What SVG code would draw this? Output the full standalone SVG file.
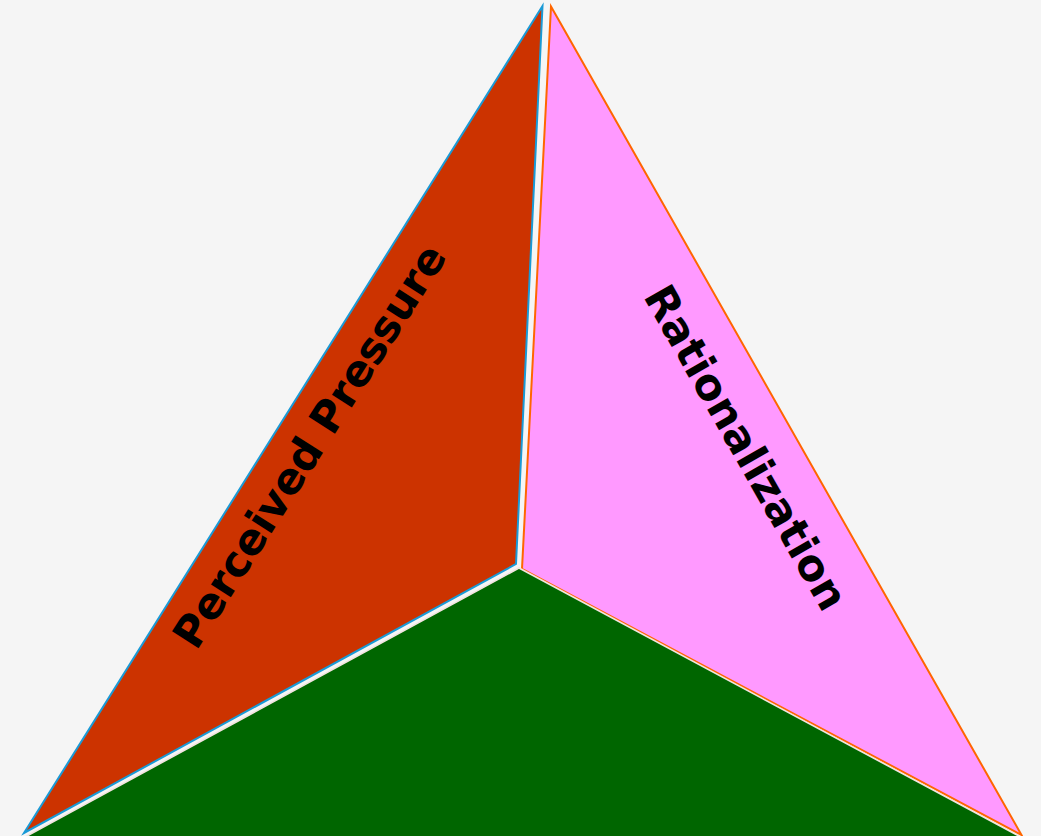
<svg xmlns="http://www.w3.org/2000/svg" width="1041" height="836" viewBox="0 0 1041 836">
<style>
.lbl{font-family:"DejaVu Sans",sans-serif;font-weight:bold;font-size:43px;fill:#000;text-anchor:middle}
</style>
<rect width="1041" height="836" fill="#f5f5f5"/>
<g id="pressure">
<polygon points="542.5,6 516,564 24,833" fill="#cc3300" stroke="#1a9ad6" stroke-width="2" stroke-linejoin="miter"/>
<text class="lbl" transform="translate(322,454) rotate(-57.5)">Perceived Pressure</text>
</g>
<g id="rationalization">
<polygon points="551,6.5 522,569 1021.5,835" fill="#ff99ff" stroke="#ff6600" stroke-width="2"/>
<text class="lbl" transform="translate(733,455) rotate(60.4)">Rationalization</text>
</g>
<g id="opportunity">
<polygon points="519,568 16,842 1030,842" fill="#006600" stroke="#f3e4e0" stroke-width="1.6"/>
</g>
<g id="connectors"/>
</svg>
